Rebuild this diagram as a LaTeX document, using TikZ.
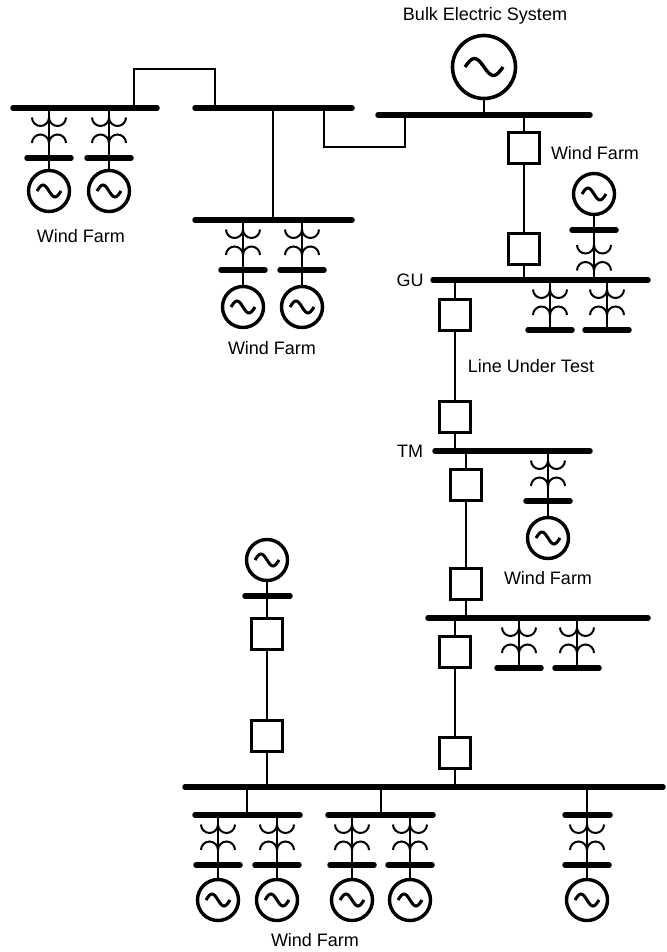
\documentclass[tikz,border=0pt]{standalone}
\usepackage{fontspec}
\setmainfont{Liberation Sans}
\begin{document}
\begin{tikzpicture}[x=1pt,y=-1pt,
  bus/.style={line width=5.5pt,line cap=round},
  wire/.style={line width=1.9pt},
  coil/.style={line width=2pt},
  brk/.style={rectangle,draw,line width=3.5pt,minimum size=31pt,inner sep=0pt},
  gen/.style={circle,draw,line width=3.4pt,minimum size=41pt,inner sep=0pt,
    path picture={\draw[line width=3pt] ([xshift=-12pt]path picture bounding box.center)
      sin ++(6pt,6pt) cos ++(6pt,-6pt) sin ++(6pt,-6pt) cos ++(6pt,6pt);}},
  biggen/.style={circle,draw,line width=3.6pt,minimum size=63pt,inner sep=0pt,
    path picture={\draw[line width=3.4pt] ([xshift=-19pt]path picture bounding box.center)
      sin ++(9.5pt,8.5pt) cos ++(9.5pt,-8.5pt) sin ++(9.5pt,-8.5pt) cos ++(9.5pt,8.5pt);}},
  lbl/.style={font=\fontsize{18}{20}\selectfont,inner sep=0pt},
  xf/.pic={
    \draw[wire] (0,0) -- (0,50);
    \draw[coil] (-17,9.5) arc[start angle=180,end angle=360,radius=8.5pt]
                          arc[start angle=180,end angle=360,radius=8.5pt];
    \draw[coil] (-17,35) arc[start angle=180,end angle=0,radius=8.5pt]
                          arc[start angle=180,end angle=0,radius=8.5pt];
    \draw[bus] (-22,50) -- (22,50);
    \coordinate (-sb) at (0,50);
  }
]
\useasboundingbox (0,0) rectangle (666,952);

% ---------- buses ----------
\draw[bus] (13,108) -- (157,108);
\draw[bus] (195,108) -- (352,108);
\draw[bus] (195,220) -- (352,220);
\draw[bus] (378,115) -- (590,115);
\draw[bus] (433,280) -- (648,280);
\draw[bus] (435,451) -- (590,451);
\draw[bus] (428,618) -- (648,618);
\draw[bus] (185,787) -- (663,787);
\draw[bus] (195,815) -- (300,815);
\draw[bus] (328,815) -- (433,815);
\draw[bus] (565,815) -- (610,815);
\draw[bus] (245,596) -- (290,596);

% ---------- bus tap coordinates ----------
\coordinate (a1) at (134,108);
\coordinate (a2) at (215,108);
\coordinate (bB) at (273,108);
\coordinate (bC) at (273,220);
\coordinate (b3) at (324,108);
\coordinate (e1) at (405,115);
\coordinate (e2) at (484,115);
\coordinate (e3) at (524,115);
\coordinate (gu1) at (524,280);
\coordinate (gu2) at (455,280);
\coordinate (tm1) at (455,451);
\coordinate (tm2) at (466,451);
\coordinate (f1) at (466,618);
\coordinate (f2) at (455,618);
\coordinate (z1) at (455,787);
\coordinate (z2) at (267,787);
\coordinate (z3) at (247,787);
\coordinate (z4) at (381,787);
\coordinate (z5) at (587,787);
\coordinate (d1) at (247,815);
\coordinate (d2) at (381,815);
\coordinate (d3) at (587,815);
\coordinate (lsb) at (267,596);

% ---------- bus-to-bus connections ----------
\draw[wire] (a1) |- (215,69) -- (a2);
\draw[wire] (bB) -- (bC);
\draw[wire] (b3) |- (405,147) -- (e1);
\draw[wire] (z3) -- (d1);
\draw[wire] (z4) -- (d2);
\draw[wire] (z5) -- (d3);

% ---------- bulk electric system ----------
\node[biggen] (bes) at (484,67) {};
\draw[wire] (bes) -- (e2);
\node[lbl] (besl) at (485,16) {Bulk Electric System};

% ---------- breakers ----------
\node[brk] (k1) at (524,148) {};
\node[brk] (k2) at (524,249) {};
\node[brk] (k3) at (455,315) {};
\node[brk] (k4) at (455,417) {};
\node[brk] (k5) at (466,485) {};
\node[brk] (k6) at (466,584) {};
\node[brk] (k7) at (455,652) {};
\node[brk] (k8) at (455,753) {};
\node[brk] (k9) at (267,634) {};
\node[brk] (k10) at (267,736) {};

\draw[wire] (e3) -- (k1) -- (k2) -- (gu1);
\draw[wire] (gu2) -- (k3) -- (k4) -- (tm1);
\draw[wire] (tm2) -- (k5) -- (k6) -- (f1);
\draw[wire] (f2) -- (k7) -- (k8) -- (z1);
\draw[wire] (lsb) -- (k9) -- (k10) -- (z2);

% ---------- left generator ----------
\node[gen] (lg) at (267,560) {};
\draw[wire] (lg) -- (lsb);

% ---------- transformers with generators ----------
\pic (t1) at (49,108) {xf};
\pic (t2) at (109,108) {xf};
\node[gen] (g1) at (49,191) {};
\node[gen] (g2) at (109,191) {};
\draw[wire] (t1-sb) -- (g1);
\draw[wire] (t2-sb) -- (g2);

\pic (t3) at (243,220) {xf};
\pic (t4) at (302,220) {xf};
\node[gen] (g3) at (243,307) {};
\node[gen] (g4) at (302,307) {};
\draw[wire] (t3-sb) -- (g3);
\draw[wire] (t4-sb) -- (g4);

\pic[rotate=180] (t5) at (594,280) {xf};
\node[gen] (g5) at (594,194) {};
\draw[wire] (t5-sb) -- (g5);

\pic (t6) at (548,451) {xf};
\node[gen] (g6) at (548,538) {};
\draw[wire] (t6-sb) -- (g6);

\pic (t7) at (218,815) {xf};
\pic (t8) at (277,815) {xf};
\pic (t9) at (352,815) {xf};
\pic (t10) at (410,815) {xf};
\pic (t11) at (587,815) {xf};
\node[gen] (g7) at (218,900) {};
\node[gen] (g8) at (277,900) {};
\node[gen] (g9) at (352,900) {};
\node[gen] (g10) at (410,900) {};
\node[gen] (g11) at (587,900) {};
\draw[wire] (t7-sb) -- (g7);
\draw[wire] (t8-sb) -- (g8);
\draw[wire] (t9-sb) -- (g9);
\draw[wire] (t10-sb) -- (g10);
\draw[wire] (t11-sb) -- (g11);

% ---------- transformers without generators ----------
\pic (t12) at (550,280) {xf};
\pic (t13) at (607,280) {xf};
\pic (t14) at (519,618) {xf};
\pic (t15) at (577,618) {xf};

% ---------- labels ----------
\node[lbl] (wf1) at (81,236) {Wind Farm};
\node[lbl] (wf2) at (272,348) {Wind Farm};
\node[lbl] (wf3) at (595,153) {Wind Farm};
\node[lbl] (wf4) at (548,578) {Wind Farm};
\node[lbl] (wf5) at (315,940) {Wind Farm};
\node[lbl] (gu) at (410,280) {GU};
\node[lbl] (tm) at (410,451) {TM};
\node[lbl] (lut) at (531,366) {Line Under Test};
\end{tikzpicture}
\end{document}
